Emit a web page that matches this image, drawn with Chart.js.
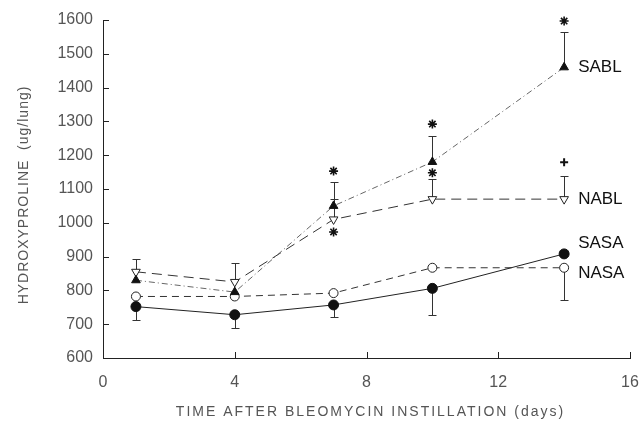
<!DOCTYPE html>
<html lang="en">
<head>
    <meta charset="UTF-8">
    <title>Hydroxyproline after bleomycin</title>
    <script src="https://cdn.jsdelivr.net/npm/chart.js"></script>
    <style>
        body {
            margin: 0;
            background-color: #fff;
        }
        #chart {
            display: block;
        }
    </style>
</head>
<body>
    <canvas id="chart" width="642" height="429"></canvas>
    <script>
        const days = [1, 4, 7, 10, 14];
        const sabl = [830, 795, 1050, 1180, 1460];
        const nabl = [855, 825, 1010, 1070, 1070];
        const sasa = [752, 728, 757, 806, 908];
        const nasa = [782, 782, 792, 867, 867];

        // one-sided error bars: value where the whisker ends (null = none drawn)
        const sablHigh = [null, null, 1120, 1258, 1564];
        const nablHigh = [893, 882, 1070, 1130, 1138];
        const sasaLow = [712, 688, 720, 727, null];
        const nasaLow = [null, null, null, null, 772];

        // significance marks
        const starDays = [7, 7, 10, 10, 14];
        const starVals = [1153, 973, 1292, 1148, 1597];
        const plusDays = [14];
        const plusVals = [1179];

        const xTicks = [0, 4, 8, 12, 16];
        const yTicks = [600, 700, 800, 900, 1000, 1100, 1200, 1300, 1400, 1500, 1600];

        const ink = '#222';
        const pts = vals => days.map((d, i) => ({ x: d, y: vals[i] }));

        const errorBars = [
            { vals: sabl, ends: sablHigh },
            { vals: nabl, ends: nablHigh },
            { vals: sasa, ends: sasaLow },
            { vals: nasa, ends: nasaLow }
        ];

        const seriesLabels = [
            { text: 'SABL', vals: sabl, dy: 0 },
            { text: 'NABL', vals: nabl, dy: 0 },
            { text: 'SASA', vals: sasa, dy: -11 },
            { text: 'NASA', vals: nasa, dy: 6 }
        ];

        const extras = {
            id: 'extras',
            beforeDatasetsDraw(chart) {
                const { ctx, scales: { x, y } } = chart;
                ctx.save();
                ctx.strokeStyle = '#333';
                ctx.lineWidth = 1;
                errorBars.forEach(s => {
                    s.ends.forEach((end, i) => {
                        if (end === null) return;
                        const px = Math.round(x.getPixelForValue(days[i])) + 0.5;
                        const py0 = y.getPixelForValue(s.vals[i]);
                        const py1 = Math.round(y.getPixelForValue(end)) + 0.5;
                        ctx.beginPath();
                        ctx.moveTo(px, py0);
                        ctx.lineTo(px, py1);
                        ctx.moveTo(px - 4, py1);
                        ctx.lineTo(px + 4, py1);
                        ctx.stroke();
                    });
                });
                ctx.restore();
            },
            afterDraw(chart) {
                const { ctx, chartArea: a, scales: { x, y } } = chart;
                ctx.save();
                // inward ticks
                ctx.strokeStyle = ink;
                ctx.lineWidth = 1;
                ctx.beginPath();
                yTicks.forEach(v => {
                    const py = Math.round(y.getPixelForValue(v)) + 0.5;
                    ctx.moveTo(a.left, py);
                    ctx.lineTo(a.left + 6, py);
                });
                xTicks.forEach(v => {
                    const px = Math.round(x.getPixelForValue(v)) + 0.5;
                    ctx.moveTo(px, a.bottom);
                    ctx.lineTo(px, a.bottom - 6);
                });
                ctx.stroke();

                // series names at the right end
                ctx.fillStyle = '#111';
                ctx.font = '17px "Liberation Sans", Arial, sans-serif';
                ctx.textAlign = 'left';
                ctx.textBaseline = 'middle';
                seriesLabels.forEach(l => {
                    const last = l.vals.length - 1;
                    ctx.fillText(l.text, x.getPixelForValue(days[last]) + 14,
                        y.getPixelForValue(l.vals[last]) + l.dy);
                });

                // axis titles
                ctx.fillStyle = '#555';
                ctx.font = '14px "Liberation Sans", Arial, sans-serif';
                ctx.letterSpacing = '2px';
                ctx.textAlign = 'center';
                ctx.fillText('TIME AFTER BLEOMYCIN INSTILLATION (days)', (a.left + a.right) / 2 + 4, 412);
                ctx.translate(24, 195);
                ctx.rotate(-Math.PI / 2);
                ctx.letterSpacing = '1px';
                ctx.fillText('HYDROXYPROLINE  (ug/lung)', 0, 0);
                ctx.restore();
            }
        };

        new Chart(document.getElementById('chart'), {
            type: 'scatter',
            data: {
                datasets: [
                    {
                        label: 'SABL', data: pts(sabl), showLine: true,
                        borderColor: '#666', borderWidth: 1, borderDash: [6, 3, 1, 3],
                        pointStyle: 'triangle', pointRadius: 5,
                        pointBackgroundColor: '#111', pointBorderColor: '#111'
                    },
                    {
                        label: 'NABL', data: pts(nabl), showLine: true,
                        borderColor: '#333', borderWidth: 1, borderDash: [10, 6],
                        pointStyle: 'triangle', rotation: 180, pointRadius: 5,
                        pointBackgroundColor: '#fff', pointBorderColor: '#222', pointBorderWidth: 1
                    },
                    {
                        label: 'SASA', data: pts(sasa), showLine: true,
                        borderColor: '#222', borderWidth: 1,
                        pointStyle: 'circle', pointRadius: 5,
                        pointBackgroundColor: '#111', pointBorderColor: '#111'
                    },
                    {
                        label: 'NASA', data: pts(nasa), showLine: true,
                        borderColor: '#333', borderWidth: 1, borderDash: [7, 5],
                        pointStyle: 'circle', pointRadius: 4.5,
                        pointBackgroundColor: '#fff', pointBorderColor: '#222', pointBorderWidth: 1
                    },
                    {
                        label: 'p', data: starDays.map((d, i) => ({ x: d, y: starVals[i] })),
                        pointStyle: 'star', pointRadius: 4.5, borderWidth: 1.6,
                        pointBorderColor: '#111', clip: false
                    },
                    {
                        label: 'q', data: plusDays.map((d, i) => ({ x: d, y: plusVals[i] })),
                        pointStyle: 'cross', pointRadius: 4, borderWidth: 2,
                        pointBorderColor: '#111', clip: false
                    }
                ]
            },
            options: {
                responsive: false,
                animation: false,
                layout: { padding: { left: 0, top: 20, right: 12, bottom: 0 } },
                plugins: { legend: { display: false }, tooltip: { enabled: false } },
                scales: {
                    x: {
                        type: 'linear', min: 0, max: 16,
                        afterFit(s) { s.height = 71; s.paddingRight = 0; s.paddingLeft = 0; },
                        afterBuildTicks(s) { s.ticks = xTicks.map(v => ({ value: v })); },
                        grid: { display: false, drawTicks: false },
                        border: { display: true, color: ink, width: 1 },
                        ticks: {
                            padding: 15, color: '#555',
                            font: { family: '"Liberation Sans", Arial, sans-serif', size: 16 }
                        }
                    },
                    y: {
                        type: 'linear', min: 600, max: 1600,
                        afterFit(s) { s.width = 103; s.paddingTop = 0; s.paddingBottom = 0; },
                        afterBuildTicks(s) { s.ticks = yTicks.map(v => ({ value: v })); },
                        grid: { display: false, drawTicks: false },
                        border: { display: true, color: ink, width: 1 },
                        ticks: {
                            padding: 10, color: '#555',
                            callback: v => String(v),
                            font: { family: '"Liberation Sans", Arial, sans-serif', size: 16 }
                        }
                    }
                }
            },
            plugins: [extras]
        });
    </script>
</body>
</html>
